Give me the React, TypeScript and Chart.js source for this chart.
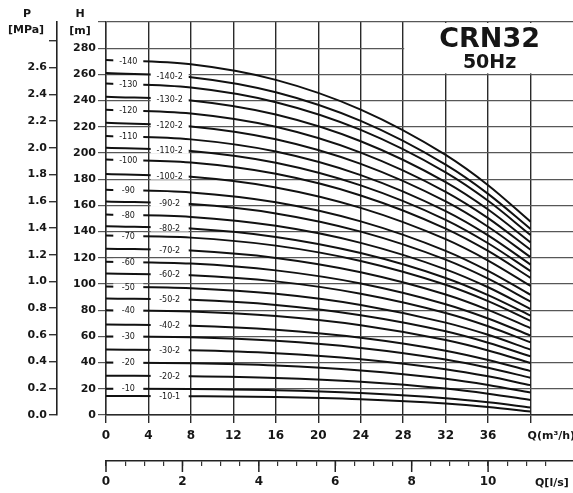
import React, { useEffect, useRef } from 'react';
import { Chart, registerables } from 'chart.js';

Chart.register(...registerables);

// Flow rate (m3/h) at which each curve value is read
const qFlow = [0, 8, 16, 24, 32, 36, 40];

// Head (m) per curve at qFlow
const h10_1 = [14.5, 14.3, 13.7, 12.0, 8.7, 6.1, 2.7];
const h10 = [20, 19.8, 18.9, 16.7, 12.8, 9.7, 5.8];
const h20_2 = [30, 29.6, 28.3, 25.4, 20.2, 16.3, 11.5];
const h20 = [40, 39.5, 37.8, 34.0, 27.6, 22.9, 17.1];
const h30_2 = [50, 49.4, 47.2, 42.6, 35.0, 29.5, 22.8];
const h30 = [60, 59.3, 56.6, 51.2, 42.4, 36.1, 28.4];
const h40_2 = [69, 68.2, 65.1, 59.0, 49.1, 42.0, 33.5];
const h40 = [80, 79.0, 75.5, 68.5, 57.2, 49.3, 39.7];
const h50_2 = [89, 87.9, 84.0, 76.2, 63.9, 55.2, 44.8];
const h50 = [98, 96.8, 92.5, 84.0, 70.5, 61.2, 49.9];
const h60_2 = [108, 106.7, 102.0, 92.6, 77.9, 67.8, 55.5];
const h60 = [117, 115.6, 110.4, 100.4, 84.6, 73.7, 60.6];
const h70_2 = [127, 125.5, 119.9, 109.0, 92.0, 80.3, 66.3];
const h70 = [137, 135.4, 129.3, 117.6, 99.4, 86.9, 71.9];
const h80_2 = [144, 142.3, 135.9, 123.6, 104.6, 91.5, 75.9];
const h80 = [153, 151.2, 144.4, 131.4, 111.2, 97.5, 80.9];
const h90_2 = [163, 161.0, 153.9, 140.0, 118.6, 104.1, 86.6];
const h90 = [172, 169.9, 162.4, 147.8, 125.3, 110.0, 91.7];
const h100_2 = [184, 181.8, 173.7, 158.1, 134.2, 117.9, 98.5];
const h100 = [195, 192.7, 184.1, 167.6, 142.3, 125.2, 104.7];
const h110_2 = [204, 201.6, 192.6, 175.3, 149.0, 131.1, 109.8];
const h110 = [213, 210.4, 201.1, 183.1, 155.6, 137.1, 114.8];
const h120_2 = [223, 220.3, 210.5, 191.7, 163.0, 143.7, 120.5];
const h120 = [233, 230.2, 220.0, 200.3, 170.4, 150.3, 126.1];
const h130_2 = [243, 240.1, 229.4, 209.0, 177.8, 156.9, 131.8];
const h130 = [253, 250.0, 238.8, 217.6, 185.2, 163.5, 137.4];
const h140_2 = [261, 257.9, 246.4, 224.5, 191.1, 168.8, 142.0];
const h140 = [271, 267.7, 255.8, 233.1, 198.5, 175.4, 147.6];

const curveNames = [
  '-10-1', '-10', '-20-2', '-20', '-30-2', '-30', '-40-2', '-40', '-50-2', '-50',
  '-60-2', '-60', '-70-2', '-70', '-80-2', '-80', '-90-2', '-90', '-100-2', '-100',
  '-110-2', '-110', '-120-2', '-120', '-130-2', '-130', '-140-2', '-140',
];
const curveHeads = [
  h10_1, h10, h20_2, h20, h30_2, h30, h40_2, h40, h50_2, h50,
  h60_2, h60, h70_2, h70, h80_2, h80, h90_2, h90, h100_2, h100,
  h110_2, h110, h120_2, h120, h130_2, h130, h140_2, h140,
];

// Axis ticks
const qTickValues = [0, 4, 8, 12, 16, 20, 24, 28, 32, 36, 40];
const qTickLabels = ['0', '4', '8', '12', '16', '20', '24', '28', '32', '36', ''];
const hTickValues = [0, 20, 40, 60, 80, 100, 120, 140, 160, 180, 200, 220, 240, 260, 280, 300];
const hTickLabels = ['0', '20', '40', '60', '80', '100', '120', '140', '160', '180', '200', '220', '240', '260', '280', ''];
const pTickValues = [0, 0.2, 0.4, 0.6, 0.8, 1.0, 1.2, 1.4, 1.6, 1.8, 2.0, 2.2, 2.4, 2.6, 2.8];
const pTickLabels = ['0.0', '0.2', '0.4', '0.6', '0.8', '1.0', '1.2', '1.4', '1.6', '1.8', '2.0', '2.2', '2.4', '2.6', ''];
const lpsTickValues = [0, 0.5, 1, 1.5, 2, 2.5, 3, 3.5, 4, 4.5, 5, 5.5, 6, 6.5, 7, 7.5, 8, 8.5, 9, 9.5, 10, 10.5, 11, 11.5];
const lpsMajorValues = [0, 2, 4, 6, 8, 10];
const lpsMajorLabels = ['0', '2', '4', '6', '8', '10'];

const Q_MAX = 44;
const H_MAX = 300;
const M_PER_MPA = 102;
const FONT = '"DejaVu Sans", sans-serif';
const INK = '#161616';

const overlay = {
  id: 'overlay',
  beforeDatasetsDraw(chart: any) {
    const { ctx, chartArea, scales } = chart;
    const xs = scales.x;
    const ys = scales.y;
    const bx = xs.getPixelForValue(28) + 1;
    const by = chartArea.top + 1;
    const bBottom = ys.getPixelForValue(260) - 1;
    ctx.save();
    ctx.fillStyle = '#fff';
    ctx.fillRect(bx, by, chartArea.right - bx, bBottom - by);
    const cx = (bx + chartArea.right) / 2 + 1;
    ctx.fillStyle = INK;
    ctx.textAlign = 'center';
    ctx.textBaseline = 'middle';
    ctx.font = 'bold 27px ' + FONT;
    ctx.fillText('CRN32', cx, 40);
    ctx.font = 'bold 19px ' + FONT;
    ctx.fillText('50Hz', cx, 63);
    ctx.restore();
  },
  afterDatasetsDraw(chart: any) {
    const { ctx, scales } = chart;
    const xs = scales.x;
    const ys = scales.y;
    ctx.save();
    ctx.font = '8px ' + FONT;
    ctx.textAlign = 'center';
    ctx.textBaseline = 'middle';
    curveNames.forEach((name, i) => {
      const heads = curveHeads[i];
      const suffixed = name.split('-').length > 2;
      const qLab = suffixed ? 6.0 : 2.1;
      const w = suffixed ? 38 : 30;
      const v = heads[0] + ((heads[1] - heads[0]) * qLab) / qFlow[1];
      const px = xs.getPixelForValue(qLab);
      const py = ys.getPixelForValue(v);
      ctx.fillStyle = '#fff';
      ctx.fillRect(px - w / 2, py - 3.5, w, 7);
      ctx.fillStyle = INK;
      ctx.fillText(name, px, py + 0.5);
    });
    ctx.restore();
  },
  afterDraw(chart: any) {
    const { ctx, scales } = chart;
    const xs = scales.x;
    const x2 = scales.x2;
    ctx.save();
    ctx.fillStyle = INK;
    ctx.textBaseline = 'middle';
    ctx.textAlign = 'center';
    ctx.font = 'bold 11px ' + FONT;
    ctx.fillText('P', 27, 14);
    ctx.fillText('[MPa]', 26, 30);
    ctx.fillText('H', 80, 14);
    ctx.fillText('[m]', 80, 31);
    ctx.font = 'bold 11px ' + FONT;
    ctx.textAlign = 'left';
    ctx.fillText('Q(m\u00b3/h)', xs.getPixelForValue(40) - 3, 436);
    ctx.fillText('Q[l/s]', 535, 483);
    ctx.strokeStyle = '#222';
    ctx.lineWidth = 1.5;
    lpsMajorValues.forEach((v) => {
      const px = x2.getPixelForValue(v);
      ctx.beginPath();
      ctx.moveTo(px, x2.top);
      ctx.lineTo(px, x2.top + 11);
      ctx.stroke();
    });
    ctx.restore();
  },
};

export default function App() {
  const ref = useRef<HTMLCanvasElement>(null);

  useEffect(() => {
    Chart.defaults.font.family = FONT;
    Chart.defaults.color = INK;
    const datasets = curveHeads.map((heads, i) => ({
      label: curveNames[i],
      data: qFlow.map((q, j) => ({ x: q, y: heads[j] })),
      borderColor: '#111',
      borderWidth: 2,
      pointRadius: 0,
      fill: false,
      cubicInterpolationMode: 'monotone' as const,
      xAxisID: 'x',
      yAxisID: 'y',
    }));

    const tickFont = { size: 11, family: FONT, weight: 'bold' as const };

    const chart = new Chart(ref.current as HTMLCanvasElement, {
      type: 'line',
      data: { datasets },
      options: {
        animation: false,
        responsive: false,
        devicePixelRatio: 1,
        layout: { padding: { top: 22, left: 0, right: 0, bottom: 0 } },
        plugins: { legend: { display: false }, tooltip: { enabled: false } },
        scales: {
          x: {
            type: 'linear',
            position: 'bottom',
            weight: 0,
            min: 0,
            max: Q_MAX,
            afterBuildTicks: (s: any) => {
              s.ticks = qTickValues.map((v) => ({ value: v }));
            },
            afterFit: (s: any) => {
              s.height = 46;
            },
            ticks: {
              autoSkip: false,
              maxRotation: 0,
              padding: 6,
              font: { size: 12, family: FONT, weight: 'bold' },
              color: INK,
              callback: (_v: any, i: number) => qTickLabels[i],
            },
            grid: { color: '#2a2a2a', lineWidth: 1.4, tickLength: 8 },
            border: { display: true, color: '#2a2a2a', width: 1.4 },
          },
          x2: {
            type: 'linear',
            position: 'bottom',
            weight: 1,
            min: 0,
            max: Q_MAX / 3.6,
            afterBuildTicks: (s: any) => {
              s.ticks = lpsTickValues.map((v) => ({ value: v }));
            },
            afterFit: (s: any) => {
              s.height = 32;
            },
            ticks: {
              autoSkip: false,
              maxRotation: 0,
              padding: 9,
              font: { size: 12, family: FONT, weight: 'bold' },
              color: INK,
              callback: (v: any) => {
                const k = lpsMajorValues.indexOf(Number(v));
                return k >= 0 ? lpsMajorLabels[k] : '';
              },
            },
            grid: { drawOnChartArea: false, color: '#333', lineWidth: 1.2, tickLength: 5 },
            border: { display: true, color: '#222', width: 1.6 },
          },
          y: {
            type: 'linear',
            position: 'left',
            weight: 0,
            min: 0,
            max: H_MAX,
            afterBuildTicks: (s: any) => {
              s.ticks = hTickValues.map((v) => ({ value: v }));
            },
            afterFit: (s: any) => {
              s.width = 49;
            },
            ticks: {
              autoSkip: false,
              padding: 2,
              font: tickFont,
              color: INK,
              callback: (_v: any, i: number) => hTickLabels[i],
            },
            grid: { color: '#575757', lineWidth: 1.2, tickLength: 8 },
            border: { display: true, color: '#2a2a2a', width: 1.4 },
          },
          p: {
            type: 'linear',
            position: 'left',
            weight: 1,
            min: 0,
            max: H_MAX / M_PER_MPA,
            afterBuildTicks: (s: any) => {
              s.ticks = pTickValues.map((v) => ({ value: v }));
            },
            afterFit: (s: any) => {
              s.width = 57;
            },
            ticks: {
              autoSkip: false,
              padding: 2,
              font: tickFont,
              color: INK,
              callback: (_v: any, i: number) => pTickLabels[i],
            },
            grid: { drawOnChartArea: false, color: '#333', lineWidth: 1.4, tickLength: 8 },
            border: { display: true, color: '#222', width: 1.6 },
          },
        },
      },
      plugins: [overlay],
    } as any);

    return () => chart.destroy();
  }, []);

  return (
    <div style={{ position: 'absolute', left: 0, top: 0, width: 573, height: 493, background: '#fff' }}>
      <canvas ref={ref} width={573} height={493} style={{ display: 'block', width: 573, height: 493 }} />
    </div>
  );
}
